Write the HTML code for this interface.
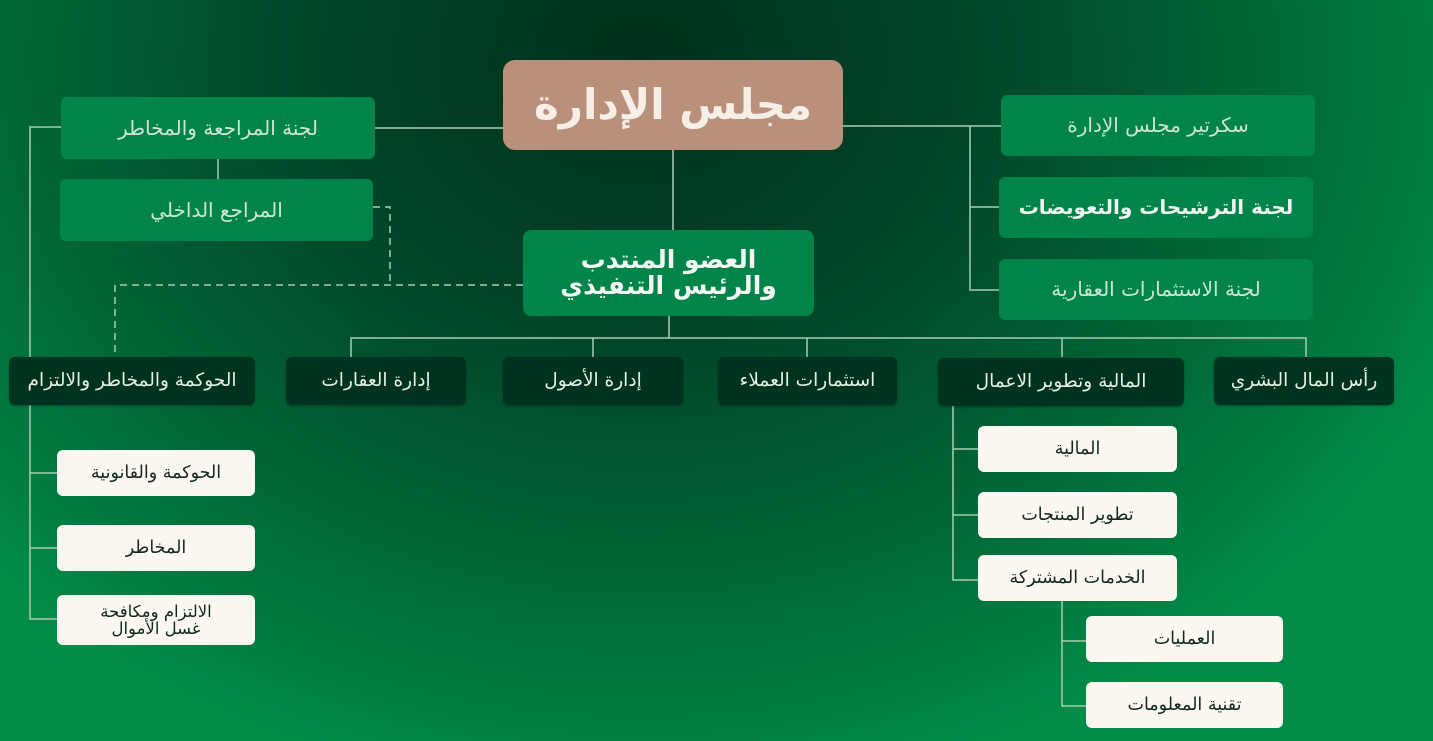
<!DOCTYPE html>
<html><head><meta charset="utf-8"><style>
body{margin:0;width:1433px;height:741px;overflow:hidden;font-family:"DejaVu Sans","Liberation Sans",sans-serif;}
#bg{position:absolute;left:0;top:0;width:1433px;height:741px;
background:radial-gradient(ellipse 900px 750px at 640px 60px,#00301c 0%,#004428 35%,#005c32 60%,#00753e 82%,#008c47 100%);}
.b{position:absolute;display:flex;align-items:center;justify-content:center;text-align:center;border-radius:6px;direction:rtl;box-sizing:border-box;line-height:1.05;}
.g{background:#00844a;color:#cfe6d6;font-size:20px;}
.d{background:#00331f;color:#e6efe8;font-size:18.5px;box-shadow:0 1px 2px rgba(0,0,0,.3);}
.w{background:#fdf7f2;color:#0f2a1c;font-size:17.5px;}
svg{position:absolute;left:0;top:0}
</style></head><body>
<div id="bg"></div>
<svg width="1433" height="741">
<g stroke="#a8cdb4" stroke-width="1.5" fill="none">
<path d="M61 127H30V619H57M30 473H57M30 548H57"/>
<path d="M375 128H503M218 159V179"/>
<path d="M673 150V230M843 126H1001M970 126V290H999M970 207H999"/>
<path d="M669 316V338M351 357V338H1306V357M593 338V357M807 338V357M1062 338V357"/>
<path d="M953 405V580H978M953 449H978M953 515H978"/>
<path d="M1062 601V706H1086M1062 641H1086"/>
<path stroke-dasharray="7 5" d="M373 207H390V285M523 285H115V357"/>
</g></svg>
<div class="b" style="left:503px;top:60px;width:340px;height:90px;background:#b9917a;color:#f7efe7;font-size:42px;font-weight:bold;border-radius:12px">مجلس الإدارة</div>
<div class="b g" style="left:61px;top:97px;width:314px;height:62px">لجنة المراجعة والمخاطر</div>
<div class="b g" style="left:60px;top:179px;width:313px;height:62px">المراجع الداخلي</div>
<div class="b g" style="left:523px;top:230px;width:291px;height:86px;font-size:25px;font-weight:bold;color:#f2f7f3;border-radius:8px">العضو المنتدب<br>والرئيس التنفيذي</div>
<div class="b g" style="left:1001px;top:95px;width:314px;height:61px">سكرتير مجلس الإدارة</div>
<div class="b g" style="left:999px;top:177px;width:314px;height:61px;font-weight:bold;color:#eef6f0">لجنة الترشيحات والتعويضات</div>
<div class="b g" style="left:999px;top:259px;width:314px;height:61px">لجنة الاستثمارات العقارية</div>
<div class="b d" style="left:9px;top:357px;width:246px;height:48px">الحوكمة والمخاطر والالتزام</div>
<div class="b d" style="left:286px;top:357px;width:180px;height:48px">إدارة العقارات</div>
<div class="b d" style="left:503px;top:357px;width:180px;height:48px">إدارة الأصول</div>
<div class="b d" style="left:718px;top:357px;width:179px;height:48px">استثمارات العملاء</div>
<div class="b d" style="left:938px;top:358px;width:246px;height:48px">المالية وتطوير الاعمال</div>
<div class="b d" style="left:1214px;top:357px;width:180px;height:48px">رأس المال البشري</div>
<div class="b w" style="left:57px;top:450px;width:198px;height:46px">الحوكمة والقانونية</div>
<div class="b w" style="left:57px;top:525px;width:198px;height:46px">المخاطر</div>
<div class="b w" style="left:57px;top:595px;width:198px;height:50px;font-size:16.5px">الالتزام ومكافحة<br>غسل الأموال</div>
<div class="b w" style="left:978px;top:426px;width:199px;height:46px">المالية</div>
<div class="b w" style="left:978px;top:492px;width:199px;height:46px">تطوير المنتجات</div>
<div class="b w" style="left:978px;top:555px;width:199px;height:46px">الخدمات المشتركة</div>
<div class="b w" style="left:1086px;top:616px;width:197px;height:46px">العمليات</div>
<div class="b w" style="left:1086px;top:682px;width:197px;height:46px">تقنية المعلومات</div>
</body></html>
